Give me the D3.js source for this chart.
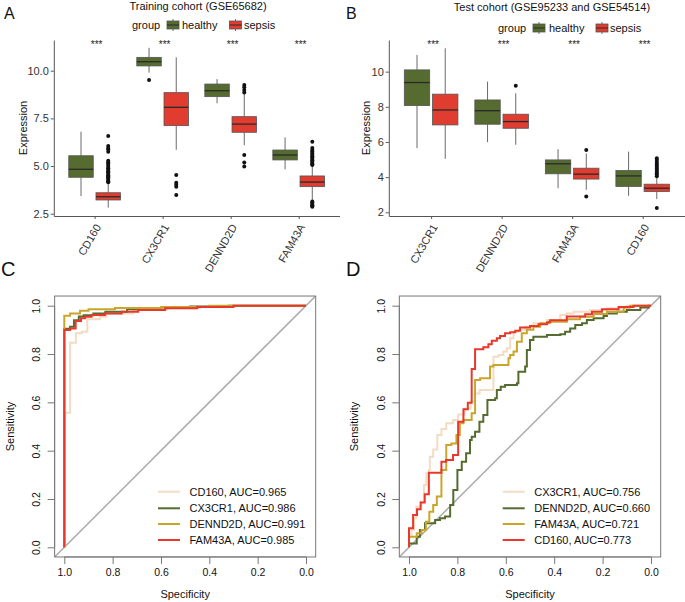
<!DOCTYPE html>
<html><head><meta charset="utf-8">
<script src="https://cdn.jsdelivr.net/npm/d3@7"></script>
<style>body{margin:0;background:#fff}svg{font-family:Arial,"Liberation Sans",Helvetica,sans-serif}</style>
</head><body>
<script>
// ---------------- DATA ----------------
const genesA = ["CD160","CX3CR1","DENND2D","FAM43A"];
const genesB = ["CX3CR1","DENND2D","FAM43A","CD160"];
const groupNames = ["healthy","sepsis"];
const groupColors = ["#556B2F","#E03C2F"];
const yTicksA = [2.5,5.0,7.5,10.0];
const yTicksB = [2,4,6,8,10];
// [lower whisker, Q1, median, Q3, upper whisker]
const trainHealthy = [[3.43,4.41,4.83,5.54,6.80],[9.90,10.25,10.47,10.70,11.20],[8.29,8.64,8.95,9.30,9.56],[4.83,5.32,5.58,5.84,6.50]];
const trainSepsis  = [[2.82,3.22,3.39,3.60,4.10],[5.85,7.12,8.08,8.85,10.70],[6.10,6.77,7.20,7.59,8.78],[3.22,3.92,4.16,4.48,5.00]];
const trainHealthyOut = [[],[9.51],[],[]];
const trainSepsisOut  = [
  [4.15,4.2,4.27,4.33,4.4,4.46,4.52,4.6,4.66,4.73,4.8,4.88,4.95,5.05,5.12,5.2,5.28,5.75,5.88,5.95,6.05,6.58],
  [4.53,4.12,4.02,3.92,3.48],
  [9.25,9.13,8.99,8.86,5.58,5.18,4.97],
  [5.05,5.1,5.16,5.22,5.3,5.37,5.45,5.52,5.6,5.68,5.76,5.84,5.95,6.28,3.14,3.07,3.01,2.95,2.9,2.87]
];
const testHealthy = [[5.65,8.07,9.38,10.10,10.95],[5.99,7.01,7.78,8.39,9.43],[3.37,4.19,4.76,4.98,5.59],[2.94,3.47,4.07,4.38,5.45]];
const testSepsis  = [[5.04,6.97,7.82,8.72,11.33],[5.84,6.78,7.16,7.58,8.77],[3.28,3.89,4.17,4.51,5.35],[2.75,3.18,3.37,3.60,3.96]];
const testHealthyOut = [[],[],[],[]];
const testSepsisOut  = [[],[9.2],[5.55,2.9],[4.05,4.14,4.22,4.31,4.4,4.48,4.57,4.66,4.76,4.86,4.97,5.08,2.24]];

// ROC curves: [specificity, sensitivity]
const genesC = ["CD160","CX3CR1","DENND2D","FAM43A"];
const aucC = ["0.965","0.986","0.991","0.985"];
const genesD = ["CX3CR1","DENND2D","FAM43A","CD160"];
const aucD = ["0.756","0.660","0.721","0.773"];
const rocColors = ["#F3DCC4","#556B2F","#C9A62B","#E8382B"];
const rocTicks = [0,0.2,0.4,0.6,0.8,1.0];

const rocC_CD160 = [[1,0],[0.997,0],[0.976,0.557],[0.952,0.847],[0.928,0.886],[0.905,0.892],[0.852,0.944],[0.825,0.954],[0.714,0.968],[0.576,0.982],[0.439,0.989],[0.3,0.996],[0,1]];
const rocC_CX3CR1 = [[1,0],[0.976,0.905],[0.96,0.913],[0.94,0.94],[0.92,0.955],[0.88,0.96],[0.83,0.968],[0.74,0.975],[0.6,0.985],[0.48,0.993],[0.32,0.997],[0,1]];
const rocC_DENND2D = [[1,0],[0.976,0.958],[0.935,0.968],[0.9,0.979],[0.79,0.985],[0.6,0.99],[0.4,0.995],[0,1]];
const rocC_FAM43A = [[1,0],[0.976,0.899],[0.953,0.906],[0.931,0.937],[0.914,0.948],[0.887,0.954],[0.832,0.961],[0.763,0.968],[0.694,0.975],[0.583,0.982],[0.45,0.989],[0.3,0.995],[0,1]];

const rocD_CX3CR1 = [[1,0],[0.99,0.044],[0.979,0.072],[0.97,0.12],[0.949,0.168],[0.938,0.189],[0.928,0.258],[0.918,0.306],[0.914,0.32],[0.9,0.375],[0.883,0.405],[0.866,0.465],[0.846,0.49],[0.818,0.513],[0.797,0.527],[0.77,0.55],[0.745,0.575],[0.728,0.603],[0.708,0.637],[0.651,0.651],[0.63,0.789],[0.61,0.796],[0.596,0.81],[0.582,0.824],[0.568,0.865],[0.548,0.892],[0.52,0.9],[0.486,0.913],[0.43,0.927],[0.375,0.941],[0.348,0.961],[0.32,0.968],[0.251,0.975],[0.182,0.982],[0.1,0.989],[0,1]];
const rocD_DENND2D = [[1,0],[0.968,0.016],[0.955,0.044],[0.934,0.072],[0.892,0.1],[0.872,0.113],[0.851,0.12],[0.83,0.127],[0.817,0.175],[0.8,0.237],[0.782,0.32],[0.764,0.354],[0.748,0.389],[0.741,0.444],[0.727,0.458],[0.709,0.478],[0.693,0.52],[0.676,0.548],[0.644,0.61],[0.637,0.617],[0.621,0.651],[0.603,0.665],[0.554,0.672],[0.548,0.679],[0.52,0.727],[0.513,0.748],[0.5,0.817],[0.486,0.858],[0.43,0.872],[0.375,0.879],[0.355,0.882],[0.334,0.892],[0.313,0.906],[0.285,0.92],[0.265,0.927],[0.237,0.941],[0.196,0.948],[0.182,0.957],[0.141,0.968],[0.1,0.975],[0.044,0.982],[0.01,0.993],[0,1]];
const rocD_FAM43A = [[1,0],[0.968,0.044],[0.948,0.058],[0.93,0.072],[0.916,0.106],[0.9,0.147],[0.885,0.175],[0.866,0.21],[0.846,0.32],[0.825,0.423],[0.804,0.43],[0.79,0.465],[0.775,0.513],[0.741,0.527],[0.727,0.555],[0.706,0.692],[0.665,0.7],[0.651,0.748],[0.589,0.755],[0.582,0.782],[0.568,0.796],[0.554,0.81],[0.534,0.851],[0.513,0.886],[0.486,0.9],[0.458,0.913],[0.424,0.927],[0.348,0.934],[0.293,0.944],[0.237,0.954],[0.182,0.966],[0.113,0.975],[0.086,0.993],[0,1]];
const rocD_CD160 = [[1,0],[0.983,0.079],[0.967,0.134],[0.952,0.157],[0.935,0.185],[0.918,0.22],[0.866,0.309],[0.847,0.354],[0.818,0.361],[0.797,0.382],[0.775,0.52],[0.757,0.571],[0.741,0.598],[0.727,0.738],[0.693,0.82],[0.672,0.828],[0.658,0.84],[0.637,0.855],[0.624,0.865],[0.603,0.875],[0.582,0.886],[0.561,0.89],[0.541,0.896],[0.5,0.91],[0.465,0.916],[0.43,0.923],[0.417,0.93],[0.348,0.94],[0.272,0.955],[0.244,0.965],[0.203,0.975],[0.134,0.985],[0.072,0.995],[0,1]];

const rocCurvesC = [rocC_CD160, rocC_CX3CR1, rocC_DENND2D, rocC_FAM43A];
const rocCurvesD = [rocD_CX3CR1, rocD_DENND2D, rocD_FAM43A, rocD_CD160];

// ---------------- DRAW ----------------
const svg = d3.select("body").append("svg").attr("width",685).attr("height",602);

function boxPanel(o){
  const g = svg.append("g");
  const x = d3.scalePoint().domain(o.genes).range(o.xr).padding(0.6);
  const y = d3.scaleLinear().domain(o.yd).range([216,40]);
  const step = x.step(), bw = step*0.36;
  // axes
  const ya = g.append("g").attr("transform",`translate(${o.xr[0]},0)`)
    .call(d3.axisLeft(y).tickValues(o.yticks).tickFormat(o.fmt).tickSize(3).tickPadding(2).tickSizeOuter(0));
  ya.select(".domain").attr("stroke","#555");
  ya.selectAll(".tick line").attr("stroke","#555");
  ya.selectAll("text").attr("font-size",11).attr("fill","#333");
  const xa = g.append("g").attr("transform","translate(0,216)")
    .call(d3.axisBottom(x).tickSize(3).tickSizeOuter(0));
  xa.select(".domain").attr("stroke","#555");
  xa.selectAll(".tick line").attr("stroke","#555");
  xa.selectAll("text").attr("font-size",11).attr("fill","#333")
    .attr("text-anchor","end").attr("y",0).attr("dy","0.35em")
    .attr("transform","translate(3,9) rotate(-60)");
  // boxes
  o.genes.forEach((gene,i)=>{
    [o.healthy[i], o.sepsis[i]].forEach((s,j)=>{
      const cx = x(gene) + (j===0?-1:1)*step*0.2;
      const outs = j===0 ? o.hOut[i] : o.sOut[i];
      g.append("line").attr("x1",cx).attr("x2",cx).attr("y1",y(s[0])).attr("y2",y(s[1])).attr("stroke","#444").attr("stroke-width",0.8);
      g.append("line").attr("x1",cx).attr("x2",cx).attr("y1",y(s[3])).attr("y2",y(s[4])).attr("stroke","#444").attr("stroke-width",0.8);
      g.append("rect").attr("x",cx-bw/2).attr("width",bw).attr("y",y(s[3])).attr("height",y(s[1])-y(s[3]))
        .attr("fill",groupColors[j]).attr("stroke","#555").attr("stroke-width",0.8);
      g.append("line").attr("x1",cx-bw/2).attr("x2",cx+bw/2).attr("y1",y(s[2])).attr("y2",y(s[2])).attr("stroke","#2a2a2a").attr("stroke-width",1.3);
      g.selectAll(null).data(outs).enter().append("circle").attr("cx",cx).attr("cy",d=>y(d)).attr("r",2).attr("fill","#111");
    });
    g.append("text").attr("x",x(gene)+2).attr("y",48).attr("text-anchor","middle").attr("font-size",10).attr("fill","#222").text("***");
  });
  // y label
  g.append("text").attr("transform",`translate(${o.ylabX},128) rotate(-90)`).attr("text-anchor","middle").attr("font-size",11).attr("fill","#111").text("Expression");
  // title
  g.append("text").attr("x",o.titleX).attr("y",o.titleY).attr("text-anchor","middle").attr("font-size",11).attr("fill","#111").text(o.title);
  // legend
  g.append("text").attr("x",o.leg[0]).attr("y",o.legY+4).attr("font-size",11).attr("fill","#111").text("group");
  groupNames.forEach((n,j)=>{
    const kx = o.leg[1+j*2];
    g.append("line").attr("x1",kx+6).attr("x2",kx+6).attr("y1",o.legY-6).attr("y2",o.legY+6).attr("stroke","#444").attr("stroke-width",0.8);
    g.append("rect").attr("x",kx).attr("y",o.legY-4).attr("width",12).attr("height",8).attr("fill",groupColors[j]).attr("stroke","#555").attr("stroke-width",0.8);
    g.append("line").attr("x1",kx).attr("x2",kx+12).attr("y1",o.legY).attr("y2",o.legY).attr("stroke","#2a2a2a").attr("stroke-width",1);
    g.append("text").attr("x",o.leg[2+j*2]).attr("y",o.legY+4).attr("font-size",11).attr("fill","#111").text(n);
  });
}

boxPanel({genes:genesA, xr:[53.8,339.5], yd:[2.38,11.61], yticks:yTicksA, fmt:d3.format(".1f"),
  healthy:trainHealthy, sepsis:trainSepsis, hOut:trainHealthyOut, sOut:trainSepsisOut,
  ylabX:27, title:"Training cohort (GSE65682)", titleX:198, titleY:10,
  leg:[132,167,182,229.5,244], legY:25});
boxPanel({genes:genesB, xr:[388.8,685], yd:[1.79,11.8], yticks:yTicksB, fmt:d3.format("d"),
  healthy:testHealthy, sepsis:testSepsis, hOut:testHealthyOut, sOut:testSepsisOut,
  ylabX:369.5, title:"Test cohort (GSE95233 and GSE54514)", titleX:552, titleY:11,
  leg:[498,533,549,596,610], legY:28});

function rocPanel(o){
  const g = svg.append("g");
  const x = d3.scaleLinear().domain([1,0]).range(o.xr);
  const y = d3.scaleLinear().domain([0,1]).range([547.3,305.7]);
  const x0 = x(1.04), x1 = x(-0.04), y0 = y(-0.04), y1 = y(1.04);
  const clipId = "clip"+o.id;
  g.append("clipPath").attr("id",clipId).append("rect").attr("x",x0).attr("y",y1).attr("width",x1-x0).attr("height",y0-y1);
  // diagonal
  g.append("line").attr("x1",x(1.04)).attr("y1",y(-0.04)).attr("x2",x(-0.04)).attr("y2",y(1.04))
    .attr("stroke","#aaa").attr("stroke-width",1.5).attr("clip-path",`url(#${clipId})`);
  const line = d3.line().x(d=>x(d[0])).y(d=>y(d[1])).curve(d3.curveStepBefore);
  o.curves.forEach((c,i)=>{
    g.append("path").attr("d",line(c)).attr("fill","none").attr("stroke",rocColors[i]).attr("stroke-width",2)
      .attr("clip-path",`url(#${clipId})`);
  });
  // frame
  g.append("rect").attr("x",x0).attr("y",y1).attr("width",x1-x0).attr("height",y0-y1).attr("fill","none").attr("stroke","#777").attr("stroke-width",1);
  // axes
  const xa = g.append("g").attr("transform",`translate(0,${y0})`).call(d3.axisBottom(x).tickValues(rocTicks).tickFormat(d3.format(".1f")).tickSize(7).tickPadding(5).tickSizeOuter(0));
  xa.select(".domain").attr("d",`M${x(1)},0H${x(0)}`).attr("stroke","#777");
  xa.selectAll(".tick line").attr("stroke","#777");
  xa.selectAll("text").attr("font-size",10.5).attr("fill","#111");
  const ya = g.append("g").attr("transform",`translate(${x0},0)`).call(d3.axisLeft(y).tickValues(rocTicks).tickFormat(d3.format(".1f")).tickSize(7).tickSizeOuter(0));
  ya.select(".domain").attr("d",`M0,${y(0)}V${y(1)}`).attr("stroke","#777");
  ya.selectAll(".tick line").attr("stroke","#777");
  ya.selectAll("text").attr("font-size",10.5).attr("fill","#111").attr("text-anchor","middle")
    .attr("x",0).attr("dy",0).attr("transform","translate(-14.5,0) rotate(-90)");
  g.append("text").attr("x",(x(1)+x(0))/2).attr("y",598).attr("text-anchor","middle").attr("font-size",11).attr("fill","#111").text("Specificity");
  g.append("text").attr("transform",`translate(${x0-41},${(y0+y1)/2}) rotate(-90)`).attr("text-anchor","middle").attr("font-size",11).attr("fill","#111").text("Sensitivity");
  // legend
  const ly = [491.7,508.3,524,540];
  o.genes.forEach((gn,i)=>{
    g.append("line").attr("x1",o.legX).attr("x2",o.legX+22).attr("y1",ly[i]).attr("y2",ly[i]).attr("stroke",rocColors[i]).attr("stroke-width",2);
    g.append("text").attr("x",o.legX+31.5).attr("y",ly[i]+4).attr("font-size",11).attr("fill","#111").text(`${gn}, AUC=${o.auc[i]}`);
  });
}
rocPanel({id:"C", xr:[64.3,306], curves:rocCurvesC, genes:genesC, auc:aucC, legX:158});
rocPanel({id:"D", xr:[409,651], curves:rocCurvesD, genes:genesD, auc:aucD, legX:502.7});

// panel letters
[["A",4,19,16],["B",346,18.5,16],["C",1,276,20],["D",346,276,20]].forEach(l=>{
  svg.append("text").attr("x",l[1]).attr("y",l[2]).attr("font-size",l[3]).attr("fill","#111").text(l[0]);
});
</script>
</body></html>
